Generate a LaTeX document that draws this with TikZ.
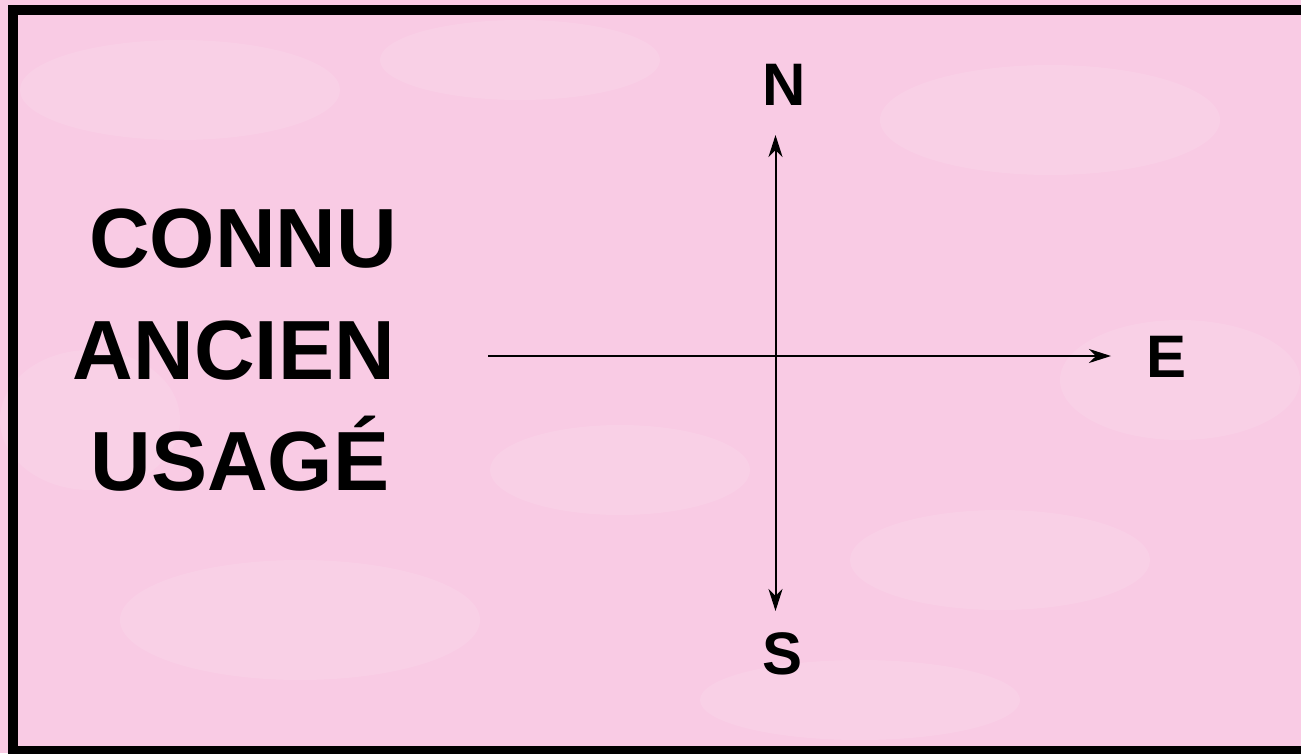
\documentclass[tikz,border=0pt]{standalone}
\usepackage{fontspec}
\setmainfont{Liberation Sans}
\usetikzlibrary{arrows.meta}
\definecolor{pinkbg}{RGB}{249,203,228}
\tikzset{
  >={Stealth[length=22bp,width=14bp,inset=7bp]},
  big/.style={anchor=base,inner sep=0pt,font=\bfseries\fontsize{84bp}{112bp}\selectfont},
  dir/.style={anchor=base,inner sep=0pt,font=\bfseries\fontsize{60bp}{72bp}\selectfont},
  axis/.style={line width=2bp},
  cloud/.style={fill=white,opacity=0.1},
}
\begin{document}
\begin{tikzpicture}[x=1bp,y=-1bp]
\fill[pinkbg] (0,0) rectangle (1301,753);
\useasboundingbox (0,0) rectangle (1301,753);
\clip (0,0) rectangle (1301,753);
% soft clouds
\foreach \cx/\cy/\rx/\ry in {180/90/160/50,520/60/140/40,1050/120/170/55,300/620/180/60,
  1000/560/150/50,620/470/130/45,1180/380/120/60,90/420/90/70,860/700/160/40}
  \fill[cloud] (\cx,\cy) ellipse[x radius=\rx,y radius=\ry];
\draw[line width=10bp] (1400,10)--(13,10)--(13,751)--(1400,751);
% words
\node[big] (l1) at (243,267){CONNU};
\node[big] (l2) at (234,379){ANCIEN};
\node[big] (l3) at (240,490){USAGÉ};
% compass
\node[dir] (n) at (784,105){N}; \node[dir] (s) at (782,674){S}; \node[dir] (e) at (1166,377){E};
\coordinate (top) at (775.5,135); \coordinate (bot) at (775.5,611);
\coordinate (west) at (488,356); \coordinate (east) at (1111,356);
\draw[axis,<->] (bot)--(top); \draw[axis,->] (west)--(east);
\end{tikzpicture}
\end{document}
